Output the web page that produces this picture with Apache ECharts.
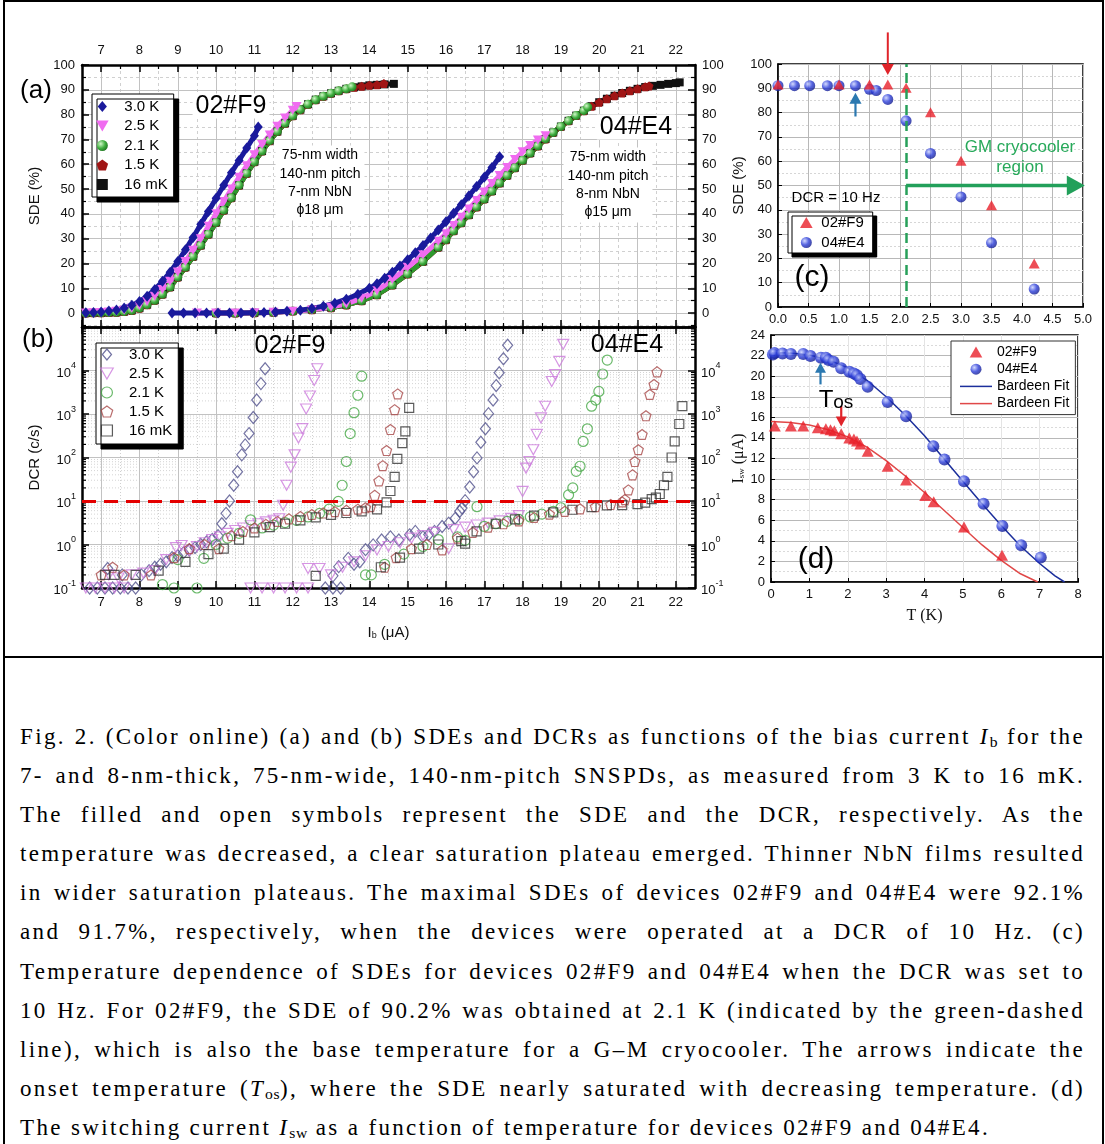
<!DOCTYPE html>
<html><head><meta charset="utf-8">
<script src="https://cdn.jsdelivr.net/npm/echarts@6/dist/echarts.min.js"></script>
<style>
html,body{margin:0;padding:0;background:#fff;}
#frame{position:absolute;left:3px;top:0px;width:1101px;height:1200px;border:2px solid #000;box-sizing:border-box;}
#divider{position:absolute;left:3px;top:656px;width:1101px;height:2px;background:#000;}
#chart{position:absolute;left:0;top:0;width:1105px;height:656px;}
#caption{position:absolute;left:20px;top:717px;width:1065px;font-family:"Liberation Serif","Times New Roman",serif;font-size:23px;letter-spacing:2.35px;line-height:39.1px;color:#000;}
#caption .l{white-space:nowrap;text-align:left;}
#caption sub{font-size:0.68em;vertical-align:-0.22em;line-height:0;letter-spacing:0.5px;}
</style></head>
<body>
<div id="frame"></div>
<div id="divider"></div>
<div id="chart"></div>
<div id="caption">
<div class="l"><span>Fig. 2. (Color online) (a) and (b) SDEs and DCRs as functions of the bias current <i>I</i><sub>b</sub> for the</span></div>
<div class="l"><span>7- and 8-nm-thick, 75-nm-wide, 140-nm-pitch SNSPDs, as measured from 3 K to 16 mK.</span></div>
<div class="l"><span>The filled and open symbols represent the SDE and the DCR, respectively. As the</span></div>
<div class="l"><span>temperature was decreased, a clear saturation plateau emerged. Thinner NbN films resulted</span></div>
<div class="l"><span>in wider saturation plateaus. The maximal SDEs of devices 02#F9 and 04#E4 were 92.1%</span></div>
<div class="l"><span>and 91.7%, respectively, when the devices were operated at a DCR of 10 Hz. (c)</span></div>
<div class="l"><span>Temperature dependence of SDEs for devices 02#F9 and 04#E4 when the DCR was set to</span></div>
<div class="l"><span>10 Hz. For 02#F9, the SDE of 90.2% was obtained at 2.1 K (indicated by the green-dashed</span></div>
<div class="l"><span>line), which is also the base temperature for a G–M cryocooler. The arrows indicate the</span></div>
<div class="l"><span>onset temperature (<i>T</i><sub>os</sub>), where the SDE nearly saturated with decreasing temperature. (d)</span></div>
<div class="l last"><span>The switching current <i>I</i><sub>sw</sub> as a function of temperature for devices 02#F9 and 04#E4.</span></div>
</div>
<script>
// ---------- tick labels ----------
const ibTicks = [7,8,9,10,11,12,13,14,15,16,17,18,19,20,21,22];
const sdeTicks = [0,10,20,30,40,50,60,70,80,90,100];
const dcrDecades = [0.1,1,10,100,1000,10000];
const dcrMinorMult = [2,3,4,5,6,7,8,9];

// ---------- (a) SDE vs Ib ----------
const f9_sde_30K = [[6.6,0.1],[6.8,0.2],[7.0,0.4],[7.2,0.8],[7.4,1.3],[7.6,2.1],[7.8,3.2],[8.0,4.7],[8.2,6.8],[8.4,9.5],[8.6,12.8],[8.8,16.5],[9.0,20.8],[9.2,25.5],[9.4,30.5],[9.6,35.8],[9.8,41],[10.0,46.3],[10.2,51.5],[10.4,56.6],[10.6,61.5],[10.8,66.5],[11.0,71.5],[11.1,75]];
const f9_sde_25K = [[6.6,0],[6.8,0.1],[7.0,0.2],[7.2,0.4],[7.4,0.7],[7.6,1.2],[7.8,2],[8.0,3.1],[8.2,4.7],[8.4,6.8],[8.6,9.5],[8.8,12.8],[9.0,16.6],[9.2,20.8],[9.4,25.3],[9.6,30],[9.8,35],[10.0,40],[10.2,45],[10.4,50],[10.6,54.8],[10.8,59.4],[11.0,63.8],[11.2,68],[11.4,71.8],[11.6,75.3],[11.8,78.6],[12.0,81.8],[12.1,83.3]];
const f9_sde_21K = [[6.6,0],[6.8,0.1],[7.0,0.1],[7.2,0.2],[7.4,0.3],[7.6,0.6],[7.8,1.1],[8.0,2.0],[8.2,3.4],[8.4,5.2],[8.6,7.6],[8.8,10.5],[9.0,14.5],[9.2,18.5],[9.4,22.8],[9.6,27.3],[9.8,31.8],[10.0,36.5],[10.2,41.5],[10.4,46.5],[10.6,51.5],[10.8,56.3],[11.0,61],[11.2,65.3],[11.4,69.5],[11.6,73.2],[11.8,76.5],[12.0,79.5],[12.2,82],[12.4,84.2],[12.6,86],[12.8,87.4],[13.0,88.6],[13.2,89.6],[13.4,90.4],[13.55,91.2]];
const f9_sde_15K = [[6.6,0],[6.8,0.1],[7.0,0.1],[7.2,0.2],[7.4,0.3],[7.6,0.6],[7.8,1.1],[8.0,2.0],[8.2,3.4],[8.4,5.2],[8.6,7.6],[8.8,10.5],[9.0,14.5],[9.2,18.5],[9.4,22.8],[9.6,27.3],[9.8,31.8],[10.0,36.5],[10.2,41.5],[10.4,46.5],[10.6,51.5],[10.8,56.3],[11.0,61],[11.2,65.3],[11.4,69.5],[11.6,73.2],[11.8,76.5],[12.0,79.5],[12.2,82],[12.4,84.2],[12.6,86],[12.8,87.4],[13.0,88.6],[13.2,89.6],[13.4,90.4],[13.6,91],[13.8,91.4],[14.0,91.8],[14.2,92],[14.38,92.5]];
const f9_sde_16mK = [[6.6,0],[6.8,0.1],[7.0,0.1],[7.2,0.2],[7.4,0.3],[7.6,0.6],[7.8,1.1],[8.0,2.0],[8.2,3.4],[8.4,5.2],[8.6,7.6],[8.8,10.5],[9.0,14.5],[9.2,18.5],[9.4,22.8],[9.6,27.3],[9.8,31.8],[10.0,36.5],[10.2,41.5],[10.4,46.5],[10.6,51.5],[10.8,56.3],[11.0,61],[11.2,65.3],[11.4,69.5],[11.6,73.2],[11.8,76.5],[12.0,79.5],[12.2,82],[12.4,84.2],[12.6,86],[12.8,87.4],[13.0,88.6],[13.2,89.6],[13.4,90.4],[13.6,91],[13.8,91.4],[14.0,91.8],[14.2,92],[14.4,92.2],[14.64,92.4]];

const e4_sde_30K = [[8.85,0],[9.15,0],[9.45,0],[9.75,0],[10.05,0],[10.35,0],[10.65,0],[10.95,0.1],[11.25,0.2],[11.55,0.4],[11.85,0.7],[12.2,1.2],[12.5,1.9],[12.8,2.8],[13.1,4],[13.4,5.6],[13.7,7.6],[14.0,10],[14.2,11.8],[14.4,14],[14.6,16.5],[14.8,19],[15.0,21.5],[15.2,24.3],[15.4,27.2],[15.6,30.3],[15.8,33.5],[16.0,36.8],[16.2,40.2],[16.4,43.7],[16.6,47.3],[16.8,51],[17.0,54.8],[17.2,58.7],[17.4,63]];
const e4_sde_25K = [[9.5,0],[10.0,0],[10.5,0],[11.0,0.1],[11.5,0.3],[12.0,0.7],[12.5,1.3],[13.0,2.4],[13.4,3.7],[13.8,6],[14.2,9],[14.6,13.5],[15.0,18.5],[15.4,23.5],[15.8,29],[16.0,32],[16.2,35.3],[16.4,38.6],[16.6,42],[16.8,45.4],[17.0,48.8],[17.2,52.2],[17.4,55.5],[17.6,58.7],[17.8,61.9],[18.0,65],[18.2,67.6],[18.4,69.8],[18.6,71.5]];
const e4_sde_21K = [[10.0,0],[10.5,0],[11.0,0.1],[11.5,0.3],[12.0,0.8],[12.5,1.4],[13.0,2.2],[13.4,3.3],[13.8,5],[14.2,7.4],[14.6,11.3],[15.0,15.8],[15.4,20.8],[15.8,26.5],[16.0,29.6],[16.2,33.2],[16.4,36.4],[16.6,39.6],[16.8,42.8],[17.0,46],[17.2,49.2],[17.4,52.4],[17.6,55.5],[17.8,58.6],[18.0,61.6],[18.2,64.5],[18.4,67.4],[18.6,70.2],[18.8,72.8],[19.0,75.2],[19.2,77.5],[19.4,79.6],[19.6,81.6],[19.7,83]];
const e4_sde_15K = [[10.0,0],[10.5,0],[11.0,0.1],[11.5,0.3],[12.0,0.8],[12.5,1.4],[13.0,2.2],[13.4,3.3],[13.8,5],[14.2,7.4],[14.6,11.3],[15.0,15.8],[15.4,20.8],[15.8,26.5],[16.0,29.6],[16.2,33.2],[16.4,36.4],[16.6,39.6],[16.8,42.8],[17.0,46],[17.2,49.2],[17.4,52.4],[17.6,55.5],[17.8,58.6],[18.0,61.6],[18.2,64.5],[18.4,67.4],[18.6,70.2],[18.8,72.8],[19.0,75.2],[19.2,77.5],[19.4,79.6],[19.6,81.6],[19.8,83.4],[20.0,85],[20.2,86.4],[20.4,87.6],[20.6,88.7],[20.8,89.6],[21.0,90.4],[21.2,91.2],[21.3,91.5]];
const e4_sde_16mK = [[10.0,0],[10.5,0],[11.0,0.1],[11.5,0.3],[12.0,0.8],[12.5,1.4],[13.0,2.2],[13.4,3.3],[13.8,5],[14.2,7.4],[14.6,11.3],[15.0,15.8],[15.4,20.8],[15.8,26.5],[16.0,29.6],[16.2,33.2],[16.4,36.4],[16.6,39.6],[16.8,42.8],[17.0,46],[17.2,49.2],[17.4,52.4],[17.6,55.5],[17.8,58.6],[18.0,61.6],[18.2,64.5],[18.4,67.4],[18.6,70.2],[18.8,72.8],[19.0,75.2],[19.2,77.5],[19.4,79.6],[19.6,81.6],[19.8,83.4],[20.0,85],[20.2,86.4],[20.4,87.6],[20.6,88.7],[20.8,89.6],[21.0,90.4],[21.2,91.1],[21.4,91.6],[21.6,92],[21.8,92.4],[22.0,92.7],[22.1,93]];

// ---------- (b) DCR vs Ib ----------
const f9_dcr_30K = [[6.7,0.1],[6.9,0.1],[7.1,0.1],[7.3,0.1],[7.5,0.1],[7.7,0.1],[7.9,0.1],[7.17,0.28],[7.55,0.2],[8.05,0.2],[8.25,0.25],[8.4,0.3],[8.55,0.35],[8.7,0.4],[8.85,0.5],[9.0,0.55],[9.15,0.65],[9.3,0.75],[9.45,0.85],[9.6,1.0],[9.75,1.15],[9.9,1.3],[10.05,1.6],[10.15,3],[10.26,5.2],[10.35,10],[10.46,23],[10.56,47],[10.67,115],[10.76,195],[10.86,355],[10.97,830],[11.06,2100],[11.17,5000],[11.28,11000]];
const f9_dcr_25K = [[6.6,0.1],[6.85,0.1],[7.1,0.1],[7.35,0.1],[7.6,0.1],[10.9,0.1],[11.2,0.1],[11.5,0.1],[11.8,0.1],[12.1,0.1],[12.4,0.1],[7.2,0.2],[7.45,0.17],[7.8,0.2],[8.1,0.22],[8.4,0.25],[8.7,0.45],[8.95,0.85],[9.1,0.95],[9.3,0.7],[9.5,0.9],[9.7,1.1],[9.9,1.3],[10.1,1.5],[10.3,1.8],[10.5,2.1],[10.7,2.4],[10.9,2.7],[11.1,3.0],[11.3,3.3],[11.5,3.6],[11.65,3.9],[11.75,8],[11.84,23],[11.95,60],[12.05,115],[12.15,280],[12.25,460],[12.35,1300],[12.45,2600],[12.56,5900],[12.64,11000],[12.4,0.28],[12.7,0.28]];
const f9_dcr_21K = [[8.9,0.1],[9.5,0.1],[8.6,0.12],[9.0,0.45],[9.68,0.48],[10.0,1.0],[10.3,1.4],[10.6,1.8],[10.9,3.7],[11.2,2.4],[11.5,2.8],[11.8,3.2],[12.1,3.6],[12.4,4.3],[12.7,5.2],[12.95,6.5],[13.19,9.8],[13.29,23],[13.4,81],[13.5,355],[13.6,1070],[13.7,2700],[13.8,7400]];
const f9_dcr_15K = [[7.0,0.2],[7.3,0.3],[7.6,0.2],[8.3,0.2],[8.9,0.5],[9.3,0.8],[9.7,1.0],[10.07,0.8],[10.4,1.6],[10.7,2.0],[11.0,2.4],[11.3,2.9],[11.6,3.4],[11.9,3.9],[12.2,4.4],[12.5,4.9],[12.8,5.3],[13.1,5.7],[13.4,6.1],[13.7,6.5],[13.9,7],[14.03,7.4],[14.14,13.5],[14.25,29],[14.35,65],[14.45,145],[14.55,440],[14.66,1260],[14.74,2900]];
const f9_dcr_16mK = [[7.1,0.2],[7.35,0.2],[7.9,0.2],[8.5,0.25],[9.2,0.4],[9.8,0.6],[10.2,0.8],[10.6,1.3],[11.0,1.9],[11.4,2.5],[11.8,3.0],[12.2,3.6],[12.6,0.19],[12.6,4.2],[13.0,4.8],[13.4,5.3],[13.8,5.8],[14.2,6.4],[14.45,9.3],[14.55,17],[14.66,36],[14.73,93],[14.86,214],[14.94,400],[15.04,1380]];
const e4_dcr_30K = [[12.85,0.1],[13.05,0.1],[13.25,0.1],[13.05,0.19],[13.2,0.31],[13.45,0.48],[13.6,0.35],[13.75,0.4],[13.9,0.76],[14.1,0.98],[14.32,1.27],[14.55,1.5],[14.77,1.27],[15.05,1.67],[15.2,2.0],[15.4,1.5],[15.55,1.7],[15.7,2.0],[15.9,2.6],[16.07,3.1],[16.24,4.0],[16.36,5.8],[16.42,6.9],[16.5,10.2],[16.62,21],[16.72,47],[16.81,98],[16.91,224],[17.03,457],[17.11,1020],[17.23,2100],[17.31,4500],[17.39,8900],[17.5,18600],[17.61,38000]];
const e4_dcr_25K = [[13.0,0.2],[13.3,0.3],[13.6,0.4],[13.9,0.55],[14.2,0.75],[14.5,0.9],[14.8,1.1],[15.1,1.4],[15.4,1.6],[15.7,1.9],[16.07,0.8],[16.2,2.2],[16.5,2.5],[16.8,2.8],[17.1,3.1],[17.4,3.5],[17.7,4.0],[17.9,4.6],[18.0,16.6],[18.09,57],[18.18,81],[18.28,151],[18.37,339],[18.48,813],[18.59,1510],[18.76,5600],[18.85,8100],[18.96,16200],[19.06,40000]];
const e4_dcr_21K = [[13.9,0.2],[14.05,0.2],[14.4,0.35],[14.9,0.6],[15.4,0.9],[15.8,1.3],[16.3,1.5],[16.5,1.25],[16.81,7.4],[17.0,2.6],[17.3,3.0],[17.6,3.4],[17.9,3.8],[18.2,4.3],[18.5,5.0],[18.8,5.8],[19.0,7],[19.2,13.8],[19.31,20],[19.4,48],[19.5,63],[19.58,234],[19.69,457],[19.8,1510],[19.91,2090],[19.99,3300],[20.09,8300],[20.21,17400]];
const e4_dcr_15K = [[14.4,0.3],[14.7,0.5],[15.1,0.8],[15.5,1.0],[15.9,0.75],[16.3,1.4],[16.7,1.9],[17.1,2.5],[17.5,3.0],[17.9,3.5],[18.3,4.2],[18.7,5.0],[19.1,5.8],[19.5,6.6],[19.9,7.4],[20.3,8.3],[20.6,9.5],[20.67,10.8],[20.76,18],[20.87,40],[20.93,81],[21.02,151],[21.12,339],[21.22,912],[21.32,2820],[21.43,4790],[21.51,9330]];
const e4_dcr_16mK = [[14.3,0.3],[14.8,0.5],[15.3,0.8],[15.8,1.0],[16.5,1.05],[16.4,1.2],[16.8,2.0],[17.3,3.0],[17.8,3.8],[18.3,4.6],[18.8,5.5],[19.3,6.3],[19.8,7.2],[20.2,7.9],[20.6,8.0],[21.0,8.5],[21.2,9.2],[21.37,11],[21.48,12],[21.58,14.5],[21.69,23],[21.78,36],[21.89,100],[21.97,234],[22.09,589],[22.17,1510]];
const dcrLimit = 10;

// ---------- (c) SDE vs T at DCR = 10 Hz ----------
const c_f9 = [[0.0,91.6],[1.0,91.6],[1.5,91.6],[1.8,91.6],[2.1,90.2],[2.5,80.1],[3.0,60.2],[3.5,41.9],[4.2,17.9]];
const c_e4 = [[0.0,91.1],[0.27,91.1],[0.52,91.1],[0.81,91.1],[1.0,91.1],[1.27,91.1],[1.5,89.6],[1.61,89.1],[1.8,85.4],[2.1,76.6],[2.5,63.2],[3.0,45.3],[3.5,26.4],[4.2,7.4]];
const c_gmT = 2.1;

// ---------- (d) Isw vs T ----------
const d_f9 = [[0.1,15.15],[0.52,15.15],[0.84,15.15],[1.22,15.0],[1.43,14.9],[1.55,14.8],[1.65,14.7],[1.83,14.4],[2.04,14.0],[2.16,13.9],[2.24,13.7],[2.33,13.4],[2.52,12.7],[3.04,11.25],[3.52,9.9],[4.02,8.4],[4.24,7.8],[5.03,5.35],[6.02,2.6]];
const d_e4 = [[0.05,22.1],[0.09,22.25],[0.3,22.2],[0.52,22.15],[0.84,22.15],[1.03,21.96],[1.3,21.8],[1.43,21.8],[1.5,21.57],[1.63,21.4],[1.83,20.76],[2.04,20.43],[2.16,20.27],[2.24,20.1],[2.33,19.72],[2.52,18.97],[3.04,17.5],[3.52,16.1],[4.23,13.2],[4.52,11.9],[5.03,9.8],[5.54,7.6],[6.03,5.45],[6.52,3.57],[7.03,2.37]];
const d_fitE4 = [[0,22.3],[0.5,22.25],[1,22.05],[1.5,21.6],[2,20.8],[2.5,19.6],[3,18.0],[3.5,16.2],[4,14.2],[4.5,12.0],[5,9.8],[5.5,7.6],[6,5.5],[6.5,3.5],[7,1.8],[7.4,0.6],[7.65,0]];
const d_fitF9 = [[0,15.6],[0.5,15.5],[1,15.25],[1.5,14.8],[2,14.1],[2.5,13.1],[3,11.8],[3.5,10.3],[4,8.7],[4.5,7.0],[5,5.3],[5.5,3.6],[6,2.1],[6.5,0.8],[6.95,0]];

// annotation arrows [x1,y1,x2,y2] in data units
const arrC_red = [[1.8,113,1.8,95.5]];
const arrC_blue = [[1.27,78.4,1.27,88.2]];
const arrC_green = [[2.1,50,5.03,50]];
const arrD_blue = [[1.29,19.2,1.29,21.3]];
const arrD_red = [[1.83,17.1,1.83,15.1]];

// ---------- caption justification (manual, keeps each line on one row) ----------
function justifyCaption() {
  const full = 1065;
  document.querySelectorAll('#caption .l').forEach(div => {
    const span = div.firstElementChild;
    span.style.wordSpacing = '0px';
    if (div.classList.contains('last')) return;
    const w = span.getBoundingClientRect().width;
    const n = (span.textContent.match(/ /g) || []).length;
    if (n) span.style.wordSpacing = ((full - w) / n) + 'px';
  });
}
justifyCaption();
if (document.fonts && document.fonts.ready) document.fonts.ready.then(justifyCaption);

// ---------- styling ----------
const FF = '"Liberation Sans", Arial, Helvetica, sans-serif';
const SERIF = '"Liberation Serif", "Times New Roman", serif';
const P = {
  diamond: 'path://M5,0L10,6L5,12L0,6Z',
  triDown: 'path://M0,0L10,0L5,8.7Z',
  triUp: 'path://M5,0L10,8.7L0,8.7Z',
  penta: 'path://M5,0L10,3.63L8.09,9.51L1.91,9.51L0,3.63Z',
  square: 'path://M0,0L10,0L10,10L0,10Z',
  circle: 'path://M10,5A5,5,0,1,1,0,5A5,5,0,1,1,10,5Z',
  bar: 'path://M0,0L32,0L32,1.5L0,1.5Z'
};
const C = {k30:'#1a1a9c', k25:'#f06cf0', k21:'#2e9a2e', k15:'#a01515', mk16:'#111111'};
const greenBall = {type:'radial', x:0.35, y:0.35, r:0.75, colorStops:[{offset:0,color:'#d2f7c8'},{offset:0.55,color:'#3fae3f'},{offset:1,color:'#1d6e1d'}]};
const blueBall = {type:'radial', x:0.35, y:0.35, r:0.75, colorStops:[{offset:0,color:'#c8d0ff'},{offset:0.5,color:'#2a3cd8'},{offset:1,color:'#0e1680'}]};
const OC = {k30:'#50508c', k25:'#cc7adc', k21:'#45a845', k15:'#a84848', mk16:'#333333'};
const REDT = '#e8202a';

function sdeLine(name, data, symbol, size, color, fill) {
  return {type:'line', name, xAxisIndex:0, yAxisIndex:0, data, symbol, symbolSize:size, showSymbol:true,
    lineStyle:{color, width:5}, itemStyle:{color: fill || color}, z:3, silent:true, animation:false};
}
function dcrScatter(name, data, symbol, size, color) {
  return {type:'scatter', name, xAxisIndex:4, yAxisIndex:4, data, symbol, symbolSize:size,
    itemStyle:{color:'rgba(255,255,255,0)', borderColor:color, borderWidth:1.2}, z:3, silent:true, animation:false};
}
function arrowSeries(xi, yi, data, color, width, head) {
  return {type:'custom', xAxisIndex:xi, yAxisIndex:yi, data, silent:true, z:6, clip:false,
    encode:{x:[0,2], y:[1,3]},
    renderItem: function (params, api) {
      const p1 = api.coord([api.value(0), api.value(1)]);
      const p2 = api.coord([api.value(2), api.value(3)]);
      const dx = p2[0]-p1[0], dy = p2[1]-p1[1], L = Math.hypot(dx, dy);
      const ux = dx/L, uy = dy/L, nx = -uy, ny = ux, hw = head*0.55;
      const hb = [p2[0]-ux*head, p2[1]-uy*head];
      return {type:'group', children:[
        {type:'line', shape:{x1:p1[0], y1:p1[1], x2:hb[0]+ux*1, y2:hb[1]+uy*1}, style:{stroke:color, lineWidth:width}},
        {type:'polygon', shape:{points:[p2, [hb[0]+nx*hw, hb[1]+ny*hw], [hb[0]-nx*hw, hb[1]-ny*hw]]}, style:{fill:color}}
      ]};
    }};
}

const minorLogVals = [];
dcrDecades.forEach(d => dcrMinorMult.forEach(m => minorLogVals.push([6.5, +(d*m).toPrecision(3)])));

const tickMajor = {inside:true, length:7, lineStyle:{color:'#000', width:1.5}};
const tickMinor = {inside:true, length:4, lineStyle:{color:'#000', width:1.2}};
const axLine = {show:true, onZero:false, lineStyle:{color:'#000', width:2.5}};
const lbl = {fontSize:13, color:'#111', fontFamily:FF};
const gridSolid = {show:true, lineStyle:{color:'#c2c2c2', width:1}};
const gridDash = {show:true, lineStyle:{color:'#d0d0d0', width:1, type:[3,3]}};

function ibMajor(grid, pos, labels, split, extra) {
  return Object.assign({type:'value', gridIndex:grid, position:pos, min:6.5, max:22.5, splitNumber:16, minInterval:1, maxInterval:1, z:2,
    axisLine:axLine, axisTick:tickMajor,
    axisLabel: labels ? Object.assign({show:true, margin:8, showMinLabel:false, showMaxLabel:false, formatter: v => ibTicks.includes(v) ? String(v) : ''}, lbl) : {show:false},
    splitLine: split ? gridSolid : {show:false}}, extra || {});
}
function ibMinor(grid, pos, split) {
  return {type:'value', gridIndex:grid, position:pos, min:6.5, max:22.5, interval:0.5, z:1,
    axisLine:{show:false, onZero:false}, axisTick:tickMinor, axisLabel:{show:false},
    splitLine: split ? split : {show:false}};
}
function sdeMajor(pos, labels, extra) {
  return Object.assign({type:'value', gridIndex:0, position:pos, min:-5.6, max:100, splitNumber:11, minInterval:10, maxInterval:10, z:2,
    axisLine:axLine, axisTick:tickMajor,
    axisLabel: Object.assign({show:labels, margin:7, showMinLabel:false, formatter: v => sdeTicks.includes(v) ? String(v) : ''}, lbl),
    splitLine: pos === 'left' ? gridSolid : {show:false}}, extra || {});
}
function sdeMinor(pos) {
  return {type:'value', gridIndex:0, position:pos, min:-5.6, max:100, splitNumber:21, minInterval:5, maxInterval:5, z:1,
    axisLine:{show:false, onZero:false}, axisTick:tickMinor, axisLabel:{show:false},
    splitLine: pos === 'left' ? gridDash : {show:false}};
}
const logRich = {b:{fontSize:13, color:'#111', fontFamily:FF, lineHeight:18, verticalAlign:'bottom'}, s:{fontSize:9, color:'#111', fontFamily:FF, lineHeight:10, verticalAlign:'top'}};
function dcrAxis(pos, extra) {
  return Object.assign({type:'log', logBase:10, gridIndex:1, position:pos, min:0.1, max:100000, splitNumber:6, z:2,
    axisLine:axLine, axisTick:tickMajor,
    axisLabel:{show:true, margin:6, rich:logRich, formatter: v => {
      const hit = dcrDecades.find(d => Math.abs(d - v) / d < 1e-6);
      return hit === undefined ? '' : '{b|10}{s|' + Math.round(Math.log10(hit)) + '}';
    }},
    splitLine: pos === 'left' ? gridSolid : {show:false}}, extra || {});
}

const legendBase = {orient:'vertical', selectedMode:false, backgroundColor:'#fff', borderColor:'#000', borderWidth:1,
  itemWidth:34, itemHeight:11, itemGap:4.5, textStyle:{fontSize:15, lineHeight:15, color:'#000', fontFamily:FF},
  formatter: n => n.split('|')[1]};

const series = [
  sdeLine('a|16 mK', f9_sde_16mK, P.square, 8, C.mk16),
  sdeLine('a|1.5 K', f9_sde_15K, P.penta, 9, C.k15),
  sdeLine('a|2.1 K', f9_sde_21K, 'circle', 9, C.k21, greenBall),
  sdeLine('a|2.5 K', f9_sde_25K, P.triDown, [10,9], C.k25),
  sdeLine('a|3.0 K', f9_sde_30K, P.diamond, [9,11], C.k30),
  sdeLine('a|16 mK', e4_sde_16mK, P.square, 8, C.mk16),
  sdeLine('a|1.5 K', e4_sde_15K, P.penta, 9, C.k15),
  sdeLine('a|2.1 K', e4_sde_21K, 'circle', 9, C.k21, greenBall),
  sdeLine('a|2.5 K', e4_sde_25K, P.triDown, [10,9], C.k25),
  sdeLine('a|3.0 K', e4_sde_30K, P.diamond, [9,11], C.k30),

  {type:'custom', xAxisIndex:4, yAxisIndex:4, data:minorLogVals, silent:true, z:1, clip:false,
    renderItem: function (params, api) {
      const v = api.value(1);
      const a = api.coord([6.5, v]), b = api.coord([22.5, v]);
      return {type:'group', children:[
        {type:'line', shape:{x1:a[0], y1:a[1], x2:b[0], y2:b[1]}, style:{stroke:'#d4d4d4', lineWidth:1, lineDash:[1,2]}},
        {type:'line', shape:{x1:a[0], y1:a[1], x2:a[0]+4, y2:a[1]}, style:{stroke:'#000', lineWidth:1.2}},
        {type:'line', shape:{x1:b[0]-4, y1:b[1], x2:b[0], y2:b[1]}, style:{stroke:'#000', lineWidth:1.2}}
      ]};
    }},

  dcrScatter('b|3.0 K', f9_dcr_30K, P.diamond, [10,12], OC.k30),
  dcrScatter('b|2.5 K', f9_dcr_25K, P.triDown, [11,10], OC.k25),
  dcrScatter('b|2.1 K', f9_dcr_21K, P.circle, 10, OC.k21),
  dcrScatter('b|1.5 K', f9_dcr_15K, P.penta, 10, OC.k15),
  dcrScatter('b|16 mK', f9_dcr_16mK, P.square, 9, OC.mk16),
  dcrScatter('b|3.0 K', e4_dcr_30K, P.diamond, [10,12], OC.k30),
  dcrScatter('b|2.5 K', e4_dcr_25K, P.triDown, [11,10], OC.k25),
  dcrScatter('b|2.1 K', e4_dcr_21K, P.circle, 10, OC.k21),
  dcrScatter('b|1.5 K', e4_dcr_15K, P.penta, 10, OC.k15),
  Object.assign(dcrScatter('b|16 mK', e4_dcr_16mK, P.square, 9, OC.mk16), {
    markLine:{silent:true, symbol:'none', label:{show:false}, animation:false,
      lineStyle:{color:'#e40000', width:3, type:[14,8]}, data:[{yAxis:dcrLimit}]}}),

  {type:'scatter', name:'d|04#E4', xAxisIndex:8, yAxisIndex:6, data:c_e4, symbol:'circle', symbolSize:11, itemStyle:{color:blueBall}, z:3, silent:true,
    markLine:{silent:true, symbol:'none', label:{show:false}, animation:false,
      lineStyle:{color:'#27a05a', width:2.5, type:[10,6]}, data:[{xAxis:c_gmT}]}},
  {type:'scatter', name:'c|02#F9', xAxisIndex:8, yAxisIndex:6, data:c_f9, symbol:P.triUp, symbolSize:[11,10], itemStyle:{color:REDT}, z:4, silent:true},
  arrowSeries(8, 6, arrC_red, '#e0242a', 2, 11),
  arrowSeries(8, 6, arrC_blue, '#2b78b0', 2.2, 11),
  arrowSeries(8, 6, arrC_green, '#22a05a', 3.5, 18),

  {type:'line', name:'e|Bardeen Fit', xAxisIndex:9, yAxisIndex:7, data:d_fitE4, symbol:'none', lineStyle:{color:'#1c2f9c', width:1.5}, itemStyle:{color:'#1c2f9c'}, z:2, silent:true},
  {type:'line', name:'f|Bardeen Fit', xAxisIndex:9, yAxisIndex:7, data:d_fitF9, symbol:'none', lineStyle:{color:'#e04848', width:1.5}, itemStyle:{color:'#e04848'}, z:2, silent:true},
  {type:'scatter', name:'g|02#F9', xAxisIndex:9, yAxisIndex:7, data:d_f9, symbol:P.triUp, symbolSize:[12,11], itemStyle:{color:REDT}, z:4, silent:true},
  {type:'scatter', name:'h|04#E4', xAxisIndex:9, yAxisIndex:7, data:d_e4, symbol:'circle', symbolSize:12, itemStyle:{color:blueBall}, z:4, silent:true},
  arrowSeries(9, 7, arrD_blue, '#2b78b0', 2.2, 10),
  arrowSeries(9, 7, arrD_red, '#e0242a', 2.2, 10)
];

function txt(x, y, text, size, extra) {
  return {type:'text', x, y, z:50, silent:true, style:Object.assign({text, font: size + 'px ' + FF, fontSize:size, fontFamily:FF, fill:'#000',
    align:'center', verticalAlign:'middle', textAlign:'center', textVerticalAlign:'middle'}, extra || {})};
}

const option = {
  animation:false,
  backgroundColor:'transparent',
  grid:[
    {left:82, top:65, width:613, height:262, outerBoundsMode:'none'},
    {left:82, top:327, width:613, height:261, outerBoundsMode:'none'},
    {left:778, top:64, width:305, height:243, show:true, borderColor:'#000', borderWidth:1.5, backgroundColor:'rgba(0,0,0,0)', outerBoundsMode:'none'},
    {left:771, top:335, width:307, height:247, show:true, borderColor:'#000', borderWidth:1.5, backgroundColor:'rgba(0,0,0,0)', outerBoundsMode:'none'}
  ],
  xAxis:[
    ibMajor(0, 'top', true, true),
    ibMinor(0, 'top', gridDash),
    ibMajor(0, 'bottom', false, false),
    ibMinor(0, 'bottom', null),
    ibMajor(1, 'bottom', true, true, {name:'{i|I}{s|b}{i| (μA)}', nameLocation:'middle', nameGap:34,
      nameTextStyle:{rich:{i:{fontSize:15, fontFamily:FF, color:'#111', lineHeight:18, verticalAlign:'bottom'}, s:{fontSize:9, fontFamily:FF, color:'#111', lineHeight:10, verticalAlign:'bottom'}}}}),
    ibMinor(1, 'bottom', {show:true, lineStyle:{color:'#d0d0d0', width:1, type:[1,2]}}),
    ibMajor(1, 'top', false, false),
    ibMinor(1, 'top', null),
    {type:'value', gridIndex:2, position:'bottom', min:0, max:5, interval:0.5, z:2,
      axisLine:{show:true, onZero:false, lineStyle:{color:'#000', width:1.5}}, axisTick:{inside:true, length:4, lineStyle:{color:'#000'}},
      axisLabel:Object.assign({margin:6, formatter: v => v.toFixed(1)}, lbl), splitLine:{show:true, lineStyle:{color:'#b8b8b8', width:1}}},
    {type:'value', gridIndex:3, position:'bottom', min:0, max:8, interval:1, z:2,
      axisLine:{show:true, onZero:false, lineStyle:{color:'#000', width:1.5}}, axisTick:{inside:true, length:4, lineStyle:{color:'#000'}},
      axisLabel:Object.assign({margin:6}, lbl), splitLine:{show:true, lineStyle:{color:'#e4e4e4', width:1}},
      name:'T (K)', nameLocation:'middle', nameGap:26, nameTextStyle:{fontSize:16, fontFamily:SERIF, color:'#111'}}
  ],
  yAxis:[
    sdeMajor('left', true, {name:'SDE (%)', nameLocation:'middle', nameGap:38, nameTextStyle:{fontSize:15, fontFamily:FF, color:'#111'}}),
    sdeMinor('left'),
    sdeMajor('right', true),
    sdeMinor('right'),
    dcrAxis('left', {name:'DCR (c/s)', nameLocation:'middle', nameGap:37, nameTextStyle:{fontSize:15, fontFamily:FF, color:'#111'}}),
    dcrAxis('right'),
    {type:'value', gridIndex:2, position:'left', min:0, max:100, interval:10, z:2,
      axisLine:{show:true, onZero:false, lineStyle:{color:'#000', width:1.5}}, axisTick:{inside:true, length:4, lineStyle:{color:'#000'}},
      axisLabel:Object.assign({margin:6}, lbl), splitLine:{show:true, lineStyle:{color:'#b8b8b8', width:1}},
      minorTick:{show:false, splitNumber:2}, minorSplitLine:{show:true, lineStyle:{color:'#d6d6d6', width:1, type:[2,2]}},
      name:'SDE (%)', nameLocation:'middle', nameGap:30, nameTextStyle:{fontSize:15, fontFamily:FF, color:'#111'}},
    {type:'value', gridIndex:3, position:'left', min:0, max:24, interval:2, z:2,
      axisLine:{show:true, onZero:false, lineStyle:{color:'#000', width:1.5}}, axisTick:{inside:true, length:4, lineStyle:{color:'#000'}},
      axisLabel:Object.assign({margin:6}, lbl), splitLine:{show:true, lineStyle:{color:'#b8b8b8', width:1}},
      minorTick:{show:false, splitNumber:2}, minorSplitLine:{show:true, lineStyle:{color:'#dadada', width:1, type:[2,2]}},
      name:'{i|I}{s|sw}{i| (μA)}', nameLocation:'middle', nameGap:24,
      nameTextStyle:{rich:{i:{fontSize:16, fontFamily:SERIF, color:'#111', lineHeight:18, verticalAlign:'bottom'}, s:{fontSize:9, fontFamily:SERIF, color:'#111', lineHeight:10, verticalAlign:'bottom'}}}}
  ],
  legend:[
    Object.assign({}, legendBase, {left:92, top:94, padding:[5,6,5,4], shadowColor:'#000', shadowBlur:0.5, shadowOffsetX:5, shadowOffsetY:5,
      data:[{name:'a|3.0 K', icon:P.diamond},{name:'a|2.5 K', icon:P.triDown},{name:'a|2.1 K', icon:'circle'},{name:'a|1.5 K', icon:P.penta},{name:'a|16 mK', icon:P.square}]}),
    Object.assign({}, legendBase, {left:96, top:343, padding:[4,6,6,4], itemGap:4, shadowColor:'#000', shadowBlur:0.5, shadowOffsetX:5, shadowOffsetY:5,
      itemStyle:{borderWidth:1.2},
      data:[{name:'b|3.0 K', icon:P.diamond},{name:'b|2.5 K', icon:P.triDown},{name:'b|2.1 K', icon:P.circle},{name:'b|1.5 K', icon:P.penta},{name:'b|16 mK', icon:P.square}]}),
    Object.assign({}, legendBase, {left:788, top:212, padding:[3,8,3,12], itemWidth:20, itemGap:5, shadowColor:'#000', shadowBlur:0.5, shadowOffsetX:4, shadowOffsetY:4,
      data:[{name:'c|02#F9', icon:P.triUp},{name:'d|04#E4', icon:'circle'}]}),
    Object.assign({}, legendBase, {left:951, top:341, padding:[4,6,4,9], itemWidth:32, itemHeight:11, itemGap:3.2, borderColor:'#333',
      textStyle:{fontSize:14, lineHeight:14, color:'#000', fontFamily:FF},
      data:[{name:'g|02#F9', icon:P.triUp},{name:'h|04#E4', icon:'circle'},{name:'e|Bardeen Fit', icon:P.bar},{name:'f|Bardeen Fit', icon:P.bar}]})
  ],
  graphic:[
    txt(36, 91, '(a)', 26),
    txt(38, 340, '(b)', 26),
    txt(231, 106, '02#F9', 25, {backgroundColor:'#fff', padding:[0,3]}),
    txt(636, 127, '04#E4', 25, {backgroundColor:'#fff', padding:[0,3]}),
    txt(290, 346, '02#F9', 25),
    txt(627, 345, '04#E4', 25),
    txt(320, 183, '75-nm width\n140-nm pitch\n7-nm NbN\nϕ18 μm', 14, {lineHeight:18.3, backgroundColor:'#fff', padding:[1,4]}),
    txt(608, 185, '75-nm width\n140-nm pitch\n8-nm NbN\nϕ15 μm', 14, {lineHeight:18.3, backgroundColor:'#fff', padding:[1,4]}),
    txt(812, 278, '(c)', 30),
    txt(816, 560, '(d)', 30),
    txt(836, 198, 'DCR = 10 Hz', 15),
    txt(1020, 147, 'GM cryocooler', 17, {fill:'#27a95a'}),
    txt(1020, 167, 'region', 17, {fill:'#27a95a'}),
    {type:'text', x:836, y:399, z:50, silent:true, style:{text:'{t|T}{s|os}', align:'center', verticalAlign:'middle', textAlign:'center', textVerticalAlign:'middle',
      rich:{t:{fontSize:24, fontFamily:FF, fill:'#000', lineHeight:26, verticalAlign:'bottom'}, s:{fontSize:19, fontFamily:FF, fill:'#000', lineHeight:20, verticalAlign:'bottom'}}}}
  ],
  series
};

const chart = echarts.init(document.getElementById('chart'));
chart.setOption(option);
</script>
</body></html>
